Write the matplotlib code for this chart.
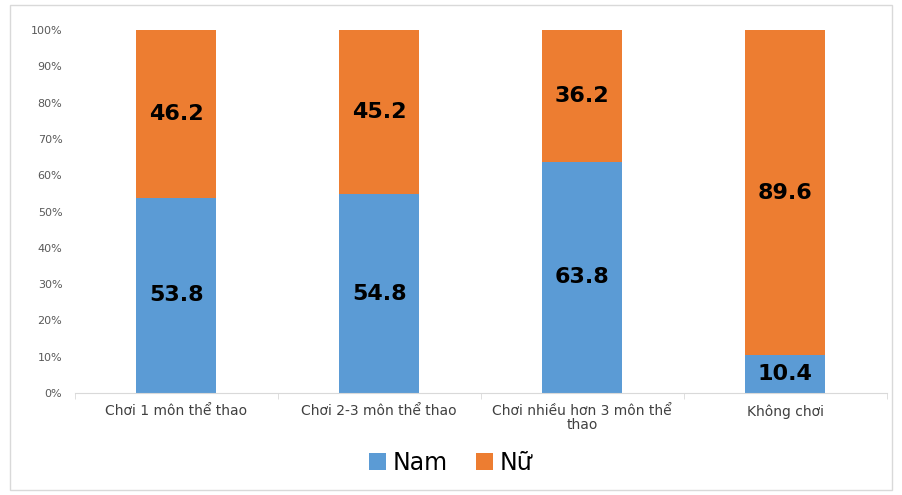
import matplotlib
matplotlib.use("Agg")
import matplotlib.pyplot as plt
from matplotlib.patches import Rectangle
import numpy as np

categories = ["Chơi 1 môn thể thao", "Chơi 2-3 môn thể thao", "Chơi nhiều hơn 3 môn thể\nthao", "Không chơi"]
nam = [53.8, 54.8, 63.8, 10.4]
nu = [46.2, 45.2, 36.2, 89.6]
yticks = [0, 10, 20, 30, 40, 50, 60, 70, 80, 90, 100]

blue = "#5B9BD5"
orange = "#ED7D31"

fig = plt.figure(figsize=(9.02, 4.95), dpi=100)
ax = fig.add_axes([0.083, 0.206, 0.900, 0.733])

x = np.arange(len(categories))
w = 0.395
ax.bar(x, nam, width=w, color=blue, label="Nam")
ax.bar(x, nu, width=w, bottom=nam, color=orange, label="Nữ")

for i in range(len(categories)):
    ax.text(x[i], nam[i] / 2, f"{nam[i]:.1f}", ha="center", va="center",
            fontsize=16, fontweight="bold", color="black")
    ax.text(x[i], nam[i] + nu[i] / 2, f"{nu[i]:.1f}", ha="center", va="center",
            fontsize=16, fontweight="bold", color="black")

ax.set_xlim(-0.5, len(categories) - 0.5)
ax.set_ylim(0, 100)
ax.set_yticks(yticks)
ax.set_yticklabels([f"{t}%" for t in yticks], fontsize=8, color="#595959")
ax.tick_params(axis="y", length=0, pad=9)
ax.set_xticks(x)
ax.set_xticklabels(categories, fontsize=10, color="#404040", linespacing=1.0)
ax.tick_params(axis="x", length=0, pad=8)
ax.set_xticks(np.arange(-0.5, len(categories)), minor=True)
ax.tick_params(axis="x", which="minor", length=4, color="#D9D9D9")

for s in ["top", "right", "left"]:
    ax.spines[s].set_visible(False)
ax.spines["bottom"].set_color("#D9D9D9")

handles, labels = ax.get_legend_handles_labels()
fig.legend(handles, labels, loc="center", bbox_to_anchor=(0.5, 0.065), ncol=2,
           frameon=False, fontsize=17, handlelength=0.7, handleheight=0.7,
           handletextpad=0.3, columnspacing=1.2)

fig.patches.append(Rectangle((0.011, 0.01), 0.978, 0.98, transform=fig.transFigure,
                             fill=False, edgecolor="#D9D9D9", linewidth=1))

fig.savefig("out.png", dpi=100)
